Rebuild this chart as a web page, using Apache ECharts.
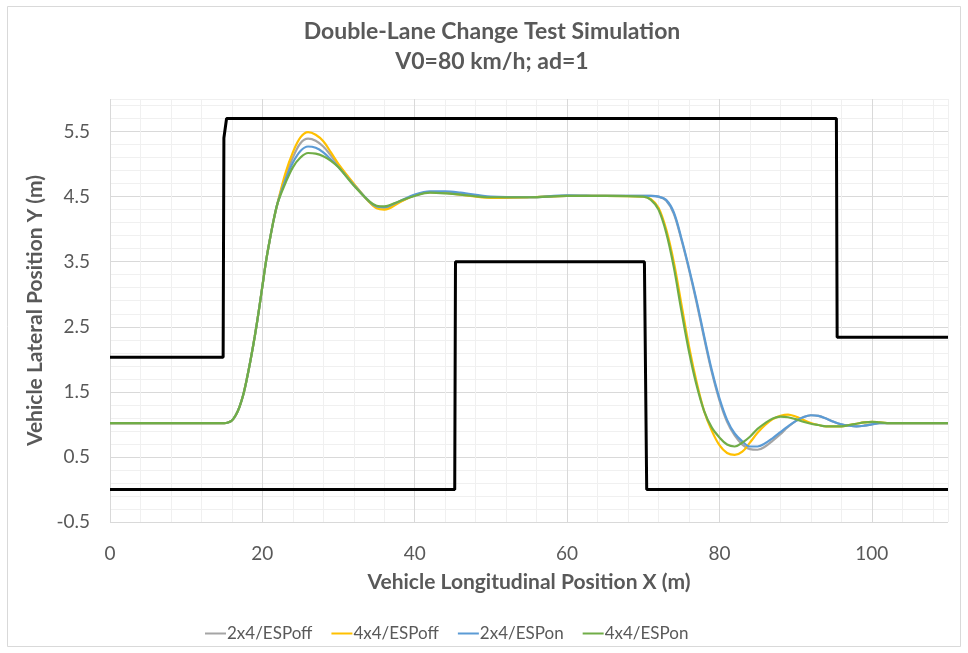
<!DOCTYPE html>
<html>
<head>
<meta charset="utf-8">
<script src="https://cdn.jsdelivr.net/npm/echarts@6/dist/echarts.min.js"></script>
<style>html,body{margin:0;padding:0;background:#fff}#c{width:968px;height:653px}</style>
</head>
<body>
<div id="c"></div>
<script>
const TITLE1 = 'Double-Lane Change Test Simulation';
const TITLE2 = 'V0=80 km/h; ad=1';
const X_NAME = 'Vehicle Longitudinal Position X (m)';
const Y_NAME = 'Vehicle Lateral Position Y (m)';
const SERIES_NAMES = ['2x4/ESPoff', '4x4/ESPoff', '2x4/ESPon', '4x4/ESPon'];

const X = [0, 15, 15.5, 16, 16.5, 17, 17.5, 18, 18.5, 19, 19.5, 20, 20.5, 21, 21.5, 22,
  23, 24, 25, 26, 27, 28, 29, 30, 32, 34, 35, 36, 38, 40, 42, 44, 46, 50, 55, 60, 65,
  70, 71, 72, 73, 74, 75, 76, 77, 78, 79, 80, 81, 82, 83, 84, 85, 86, 87, 88, 89, 90,
  91, 92, 93, 94, 95, 96, 97, 98, 99, 100, 101, 102, 104, 110];

const RISE = [1.02, 1.02, 1.03, 1.06, 1.14, 1.27, 1.46, 1.72, 2.02, 2.35, 2.72, 3.12, 3.52, 3.85, 4.15, 4.4];

const Y_GRAY = RISE.concat([
  4.8, 5.1, 5.32, 5.39, 5.36, 5.27, 5.13, 4.98, 4.69, 4.42, 4.34, 4.33, 4.42,
  4.52, 4.57, 4.57, 4.54, 4.49, 4.49, 4.51, 4.51,
  4.51, 4.51, 4.5, 4.44, 4.24, 3.84, 3.38, 2.87, 2.32, 1.8, 1.37, 1.04, 0.83, 0.69, 0.62, 0.61,
  0.66, 0.75, 0.85, 0.96, 1.05, 1.11, 1.14, 1.13, 1.09, 1.04, 1.0, 0.98, 0.97, 0.98, 1.0, 1.02, 1.02, 1.02, 1.02]);

const Y_YELLOW = RISE.concat([
  4.85, 5.18, 5.41, 5.49, 5.45, 5.35, 5.18, 5.0, 4.7, 4.42, 4.32, 4.3, 4.41,
  4.52, 4.57, 4.56, 4.53, 4.48, 4.49, 4.51, 4.51,
  4.5, 4.46, 4.33, 4.0, 3.5, 2.85, 2.2, 1.65, 1.2, 0.9, 0.68, 0.56, 0.53, 0.58, 0.72, 0.87,
  0.99, 1.08, 1.13, 1.15, 1.12, 1.07, 1.02, 0.99, 0.97, 0.97, 0.97, 0.99, 1.01, 1.03, 1.04, 1.03, 1.02, 1.02, 1.02]);

const Y_BLUE = RISE.concat([
  4.75, 5.02, 5.2, 5.27, 5.25, 5.18, 5.07, 4.95, 4.68, 4.43, 4.35, 4.34, 4.43,
  4.53, 4.58, 4.58, 4.56, 4.5, 4.49, 4.52, 4.51,
  4.51, 4.51, 4.5, 4.45, 4.26, 3.86, 3.4, 2.9, 2.35, 1.83, 1.4, 1.07, 0.86, 0.74, 0.66, 0.66,
  0.71, 0.79, 0.88, 0.97, 1.05, 1.11, 1.14, 1.13, 1.09, 1.04, 1.0, 0.98, 0.97, 0.98, 1.0, 1.02, 1.02, 1.02, 1.02]);

const Y_GREEN = RISE.concat([
  4.7, 4.95, 5.1, 5.17, 5.16, 5.12, 5.05, 4.95, 4.67, 4.43, 4.36, 4.35, 4.43,
  4.51, 4.56, 4.55, 4.53, 4.49, 4.49, 4.51, 4.51,
  4.5, 4.45, 4.3, 3.95, 3.42, 2.75, 2.12, 1.6, 1.2, 0.95, 0.8, 0.69, 0.66, 0.72, 0.81, 0.93,
  1.02, 1.09, 1.12, 1.11, 1.08, 1.04, 1.01, 0.99, 0.97, 0.97, 0.97, 0.99, 1.01, 1.03, 1.04, 1.03, 1.02, 1.02, 1.02]);

const UPPER_X = [0, 14.85, 14.95, 15.3, 95.35, 95.45, 110];
const UPPER_Y = [2.03, 2.03, 5.4, 5.7, 5.7, 2.34, 2.34];
const LOWER_X = [0, 45.25, 45.35, 70.15, 70.45, 110];
const LOWER_Y = [0, 0, 3.5, 3.5, 0, 0];

const X_TICKS = [0, 20, 40, 60, 80, 100];
const Y_TICKS = [-0.5, 0.5, 1.5, 2.5, 3.5, 4.5, 5.5];

const COLORS = ['#A5A5A5', '#FFC000', '#5B9BD5', '#70AD47'];
const FONT = 'Lato, "Open Sans", sans-serif';
const TXT = '#595959';

function pairs(xs, ys) { return xs.map((x, i) => [x, ys[i]]); }
function near(v, list) { return list.some(t => Math.abs(t - v) < 1e-6); }

const curves = [Y_GRAY, Y_YELLOW, Y_BLUE, Y_GREEN];
const series = curves.map((ys, i) => ({
  name: SERIES_NAMES[i], type: 'line', data: pairs(X, ys), showSymbol: false, symbol: 'none',
  smooth: 0.35, lineStyle: { color: COLORS[i], width: 2.2 }, itemStyle: { color: COLORS[i] },
  z: 3, animation: false
}));
series.unshift(
  { name: 'upper', type: 'line', data: pairs(UPPER_X, UPPER_Y), symbol: 'none', lineStyle: { color: '#000', width: 3 }, z: 2, animation: false },
  { name: 'lower', type: 'line', data: pairs(LOWER_X, LOWER_Y), symbol: 'none', lineStyle: { color: '#000', width: 3 }, z: 2, animation: false }
);

const chart = echarts.init(document.getElementById('c'));
chart.setOption({
  animation: false,
  backgroundColor: '#fff',
  graphic: [
    { type: 'rect', shape: { x: 7.5, y: 6.5, width: 953, height: 640 }, style: { fill: 'none', stroke: '#D9D9D9', lineWidth: 1 }, silent: true },
    { type: 'text', x: 492, y: 32, style: { text: TITLE1, fill: TXT, font: 'bold 23px ' + FONT, textAlign: 'center', textVerticalAlign: 'middle' } },
    { type: 'text', x: 492, y: 62, style: { text: TITLE2, fill: TXT, font: 'bold 23px ' + FONT, textAlign: 'center', textVerticalAlign: 'middle' } }
  ],
  legend: {
    data: SERIES_NAMES, left: 200, top: 620, icon: 'rect', itemWidth: 21, itemHeight: 2, itemGap: 19,
    textStyle: { color: TXT, fontSize: 17, fontFamily: FONT, padding: [0, 0, 0, -4] }
  },
  grid: { left: 110, right: 20, top: 99, bottom: 131, containLabel: false },
  xAxis: {
    type: 'value', min: 0, max: 110, interval: 4,
    name: X_NAME, nameLocation: 'middle', nameGap: 50,
    nameTextStyle: { color: TXT, fontSize: 21, fontWeight: 'bold', fontFamily: FONT },
    axisLine: { show: false }, axisTick: { show: false },
    axisLabel: { color: TXT, fontSize: 19, fontFamily: FONT, margin: 22, formatter: v => near(v, X_TICKS) ? String(v) : '' },
    splitLine: { show: true, lineStyle: { color: ['#D9D9D9', '#F0F0F0', '#F0F0F0', '#F0F0F0', '#F0F0F0'], width: 1 } }
  },
  yAxis: {
    type: 'value', min: -0.5, max: 6, interval: 0.2,
    name: Y_NAME, nameLocation: 'middle', nameGap: 62, nameRotate: 90,
    nameTextStyle: { color: TXT, fontSize: 21, fontWeight: 'bold', fontFamily: FONT },
    axisLine: { show: false }, axisTick: { show: false },
    axisLabel: { color: TXT, fontSize: 19, fontFamily: FONT, margin: 20, formatter: v => near(v, Y_TICKS) ? v.toFixed(1) : '' },
    splitLine: { show: true, lineStyle: { color: ['#D9D9D9', '#F0F0F0', '#F0F0F0', '#F0F0F0', '#F0F0F0'], width: 1 } }
  },
  series: series
});
</script>
</body>
</html>
